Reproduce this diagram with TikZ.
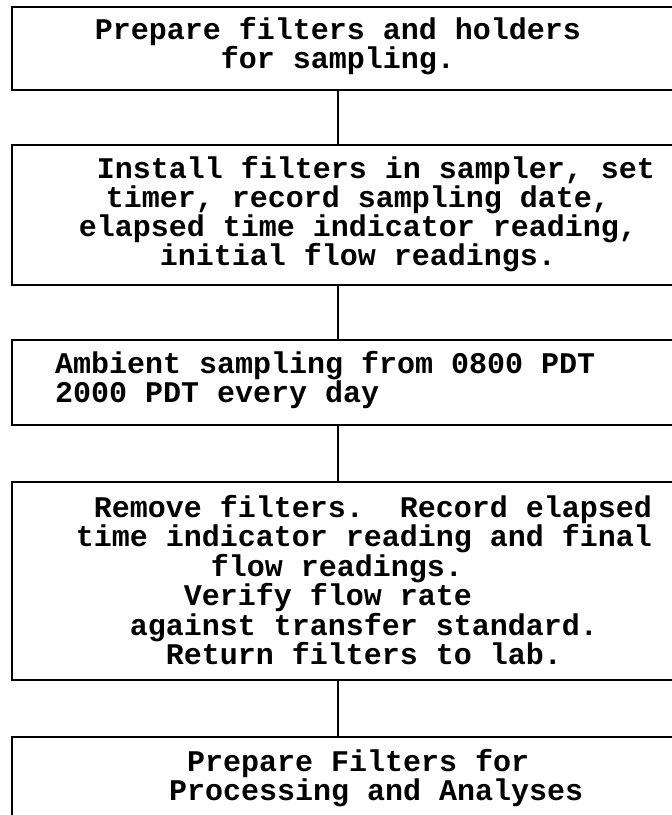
\documentclass[tikz,border=0pt]{standalone}
\usepackage{fontspec}
\setmonofont{Liberation Mono}
\usepackage{tikz}
\usetikzlibrary{positioning}
\tikzset{
  stepbox/.style={draw,line width=1.8pt,minimum width=688pt,inner sep=0pt},
  steptext/.style={font=\ttfamily\bfseries\fontsize{30}{27}\selectfont,align=center,inner sep=0pt},
  link/.style={line width=1.2pt}
}
\begin{document}
\begin{tikzpicture}[x=1pt,y=1pt]
%
\useasboundingbox (0,0) rectangle (672,-815);
%
\node[stepbox,minimum height=83pt] (box1) at (356,-48.5) {};
\node[stepbox,minimum height=140pt] (box2) at (356,-215) {};
\node[stepbox,minimum height=85pt] (box3) at (356,-382.5) {};
\node[stepbox,minimum height=198pt] (box4) at (356,-581) {};
\node[stepbox,minimum height=160pt] (box5) at (356,-817) {};
%
\coordinate (axis) at (338,0);
%
\node[steptext] (txt1) at (338,-46) {Prepare filters and holders\\for sampling.};
\node[steptext] (txt2) at (358,-214) {~~Install filters in sampler, set\\timer, record sampling date,\\elapsed time indicator reading,\\initial flow readings.~};
\node[steptext,align=left,anchor=west] (txt3) at (55,-380) {Ambient sampling from 0800 PDT\\2000 PDT every day};
\node[steptext] (txt4) at (364,-580) {~Remove filters.~~Record elapsed\\time indicator reading and final\\flow readings.~~~~\\Verify flow rate~~~~~\\against transfer standard.\\Return filters to lab.};
\node[steptext,align=left,anchor=west] (txt5) at (169,-778) {~Prepare Filters for\\Processing and Analyses};
%
\draw[link] (box1.south -| axis) -- (box2.north -| axis);
\draw[link] (box2.south -| axis) -- (box3.north -| axis);
\draw[link] (box3.south -| axis) -- (box4.north -| axis);
\draw[link] (box4.south -| axis) -- (box5.north -| axis);
%
\end{tikzpicture}
\end{document}
